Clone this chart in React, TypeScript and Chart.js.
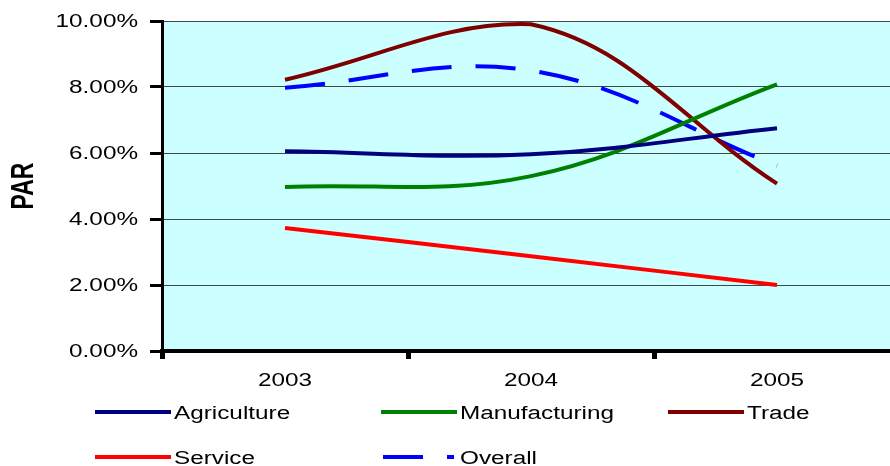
import React, { useEffect, useRef } from 'react';
import { Chart, registerables } from 'chart.js';

Chart.register(...registerables);

// Portfolio-at-risk by sector, in percent
const years = ['2003', '2004', '2005'];
const agriculture = [6.05, 5.96, 6.75];
const manufacturing = [4.97, 5.3, 8.08];
const trade = [8.22, 9.9, 5.07];
const service = [3.73, 2.87, 2.0];
const overall = [7.98, 8.5, 5.62];

const yTickValues = [0, 2, 4, 6, 8, 10];
const yTickLabels = ['0.00%', '2.00%', '4.00%', '6.00%', '8.00%', '10.00%'];
const yTitle = 'PAR';

const seriesNames = ['Agriculture', 'Manufacturing', 'Trade', 'Service', 'Overall'];
const seriesColors = ['#000080', '#008000', '#800000', '#ff0000', '#0000ff'];
const seriesValues = [agriculture, manufacturing, trade, service, overall];

const FONT = "'Liberation Sans', Arial, sans-serif";
const STRETCH = 1.35; // wide lettering
const OVERALL_DASH = [40, 24];

function wideText(
  ctx: CanvasRenderingContext2D,
  text: string,
  x: number,
  y: number,
  align: CanvasTextAlign,
  font: string,
  rotate = false
) {
  ctx.save();
  ctx.translate(x, y);
  ctx.scale(STRETCH, 1);
  if (rotate) ctx.rotate(-Math.PI / 2);
  ctx.font = font;
  ctx.fillStyle = '#000';
  ctx.textAlign = align;
  ctx.textBaseline = 'middle';
  ctx.fillText(text, 0, 0);
  ctx.restore();
}

const paintPlugin = {
  id: 'paint',
  beforeDraw(chart: any) {
    const { ctx, chartArea } = chart;
    ctx.save();
    ctx.fillStyle = '#ccffff';
    ctx.fillRect(chartArea.left, chartArea.top, chartArea.right - chartArea.left, chartArea.bottom - chartArea.top);
    ctx.restore();
  },
  afterDraw(chart: any) {
    const { ctx } = chart;
    const xs = chart.scales.x;
    const ys = chart.scales.y;

    // value axis labels
    yTickValues.forEach((v, i) => {
      wideText(ctx, yTickLabels[i], 138, ys.getPixelForValue(v) + 1.5, 'right', `18px ${FONT}`);
    });

    // category labels
    years.forEach((yr, i) => {
      wideText(ctx, yr, xs.getPixelForValue(i), 381, 'center', `18px ${FONT}`);
    });

    // axis title
    wideText(ctx, yTitle, 24, (ys.top + ys.bottom) / 2, 'center', `bold 23px ${FONT}`, true);

    // legend, three columns by two rows
    const cols = [95, 381, 668];
    const rows = [412, 457];
    chart.data.datasets.forEach((ds: any, i: number) => {
      const x = cols[i % 3];
      const y = rows[Math.floor(i / 3)];
      ctx.save();
      ctx.strokeStyle = ds.borderColor;
      ctx.lineWidth = 4;
      ctx.lineCap = 'butt';
      if (ds.borderDash && ds.borderDash.length) {
        ctx.setLineDash(ds.borderDash);
        ctx.beginPath();
        ctx.moveTo(x + 2, y);
        ctx.lineTo(x + 73, y);
        ctx.stroke();
      } else {
        ctx.beginPath();
        ctx.moveTo(x, y);
        ctx.lineTo(x + 76, y);
        ctx.stroke();
      }
      ctx.restore();
      wideText(ctx, ds.label, x + 79, y + 2, 'left', `18px ${FONT}`);
    });
  },
};

export default function App() {
  const canvasRef = useRef<HTMLCanvasElement | null>(null);

  useEffect(() => {
    const canvas = canvasRef.current;
    if (!canvas) return;

    const datasets = seriesNames.map((name, i) => ({
      label: name,
      data: seriesValues[i],
      borderColor: seriesColors[i],
      backgroundColor: seriesColors[i],
      borderWidth: 4,
      borderDash: name === 'Overall' ? OVERALL_DASH : [],
      pointRadius: 0,
      pointHoverRadius: 0,
      tension: 0.38,
      fill: false,
    }));

    const chart = new Chart(canvas, {
      type: 'line',
      data: { labels: years, datasets },
      options: {
        animation: false,
        responsive: false,
        devicePixelRatio: 1,
        layout: { padding: { top: 21, left: 0, right: 5, bottom: 105 } },
        plugins: {
          legend: { display: false },
          tooltip: { enabled: false },
          title: { display: false },
        },
        scales: {
          x: {
            type: 'category',
            offset: true,
            grid: {
              display: true,
              offset: true,
              drawOnChartArea: false,
              drawTicks: true,
              tickLength: 8,
              tickWidth: 5,
              tickColor: '#000',
            },
            border: { display: true, color: '#000', width: 4 },
            ticks: { display: false },
            afterFit: (s: any) => {
              s.height = 10;
            },
          },
          y: {
            type: 'linear',
            min: 0,
            max: 10,
            ticks: { display: false, stepSize: 2 },
            grid: {
              color: '#3c4a4a',
              lineWidth: 1,
              drawTicks: true,
              tickLength: 12,
              tickWidth: 3,
              tickColor: '#000',
            },
            border: { display: true, color: '#000', width: 3 },
            afterFit: (s: any) => {
              s.width = 162;
            },
          },
        },
      },
      plugins: [paintPlugin],
    });

    return () => chart.destroy();
  }, []);

  return (
    <div
      style={{
        position: 'fixed',
        left: 0,
        top: 0,
        width: 890,
        height: 466,
        overflow: 'hidden',
        background: '#fff',
      }}
    >
      <canvas ref={canvasRef} width={905} height={466} style={{ display: 'block', width: 905, height: 466 }} />
    </div>
  );
}
